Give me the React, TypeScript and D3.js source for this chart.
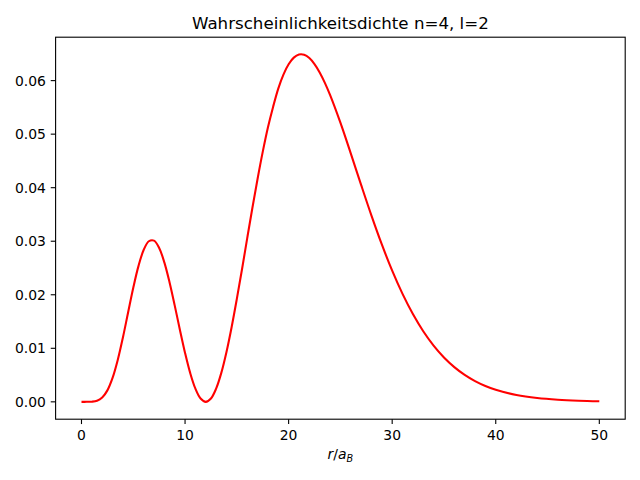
import React from "react";
import * as d3 from "d3";

const rValues = [
  0, 0.5, 1, 1.5, 2, 2.5, 3, 3.5, 4, 4.5, 5, 5.5, 6, 6.5, 7, 7.5, 8, 8.5, 9, 9.5,
  10, 10.5, 11, 11.5, 12, 12.5, 13, 13.5, 14, 14.5, 15, 15.5, 16, 16.5, 17, 17.5,
  18, 18.5, 19, 19.5, 20, 20.5, 21, 21.5, 22, 22.5, 23, 23.5, 24, 25, 26, 27, 28,
  29, 30, 31, 32, 33, 34, 35, 36, 37, 38, 39, 40, 42, 44, 46, 48, 50,
];
const densityValues = [
  0, 0.0000005, 0.0000249, 0.000201, 0.000798, 0.002141, 0.004468, 0.007826,
  0.01203, 0.016693, 0.02131, 0.025352, 0.028355, 0.029995, 0.030116, 0.028741,
  0.026049, 0.022346, 0.018017, 0.013478, 0.009139, 0.005365, 0.002455, 0.000624,
  0, 0.000624, 0.002461, 0.005408, 0.009313, 0.013988, 0.019226, 0.024765,
  0.030535, 0.0362, 0.041633, 0.046685, 0.051239, 0.05509, 0.05851, 0.061132,
  0.063056, 0.064292, 0.064866, 0.06482, 0.064211, 0.06309, 0.061528, 0.059586,
  0.057333, 0.052138, 0.046406, 0.040523, 0.034784, 0.029398, 0.0245, 0.020157,
  0.016389, 0.013182, 0.010496, 0.00828, 0.006475, 0.005023, 0.003867, 0.002956,
  0.002244, 0.00127, 0.000703, 0.000381, 0.000203, 0.000106,
];
const xTicks = [0, 10, 20, 30, 40, 50];
const yTicks = [0, 0.01, 0.02, 0.03, 0.04, 0.05, 0.06];
const titleText = "Wahrscheinlichkeitsdichte n=4, l=2";

const W = 640;
const H = 480;
const left = 55.6;
const right = 625.2;
const top = 37.2;
const bottom = 419.2;
const FONT = "DejaVu Sans, sans-serif";

export default function App() {
  const xMin = 0, xMax = 50;
  const yMax = d3.max(densityValues) as number;
  const xPad = (xMax - xMin) * 0.05;
  const yPad = yMax * 0.05;
  const x = d3.scaleLinear().domain([xMin - xPad, xMax + xPad]).range([left, right]);
  const y = d3.scaleLinear().domain([-yPad, yMax + yPad]).range([bottom, top]);
  const pts = rValues.map((r, i) => [r, densityValues[i]] as [number, number]);
  const line = d3
    .line<[number, number]>()
    .x((d) => x(d[0]))
    .y((d) => y(d[1]))
    .curve(d3.curveCatmullRom.alpha(0.5));
  const fmt = d3.format(".2f");
  const tickLen = 4.86;
  return (
    <svg
      width={W}
      height={H}
      style={{ position: "absolute", left: 0, top: 0, background: "#fff" }}
      fontFamily={FONT}
    >
      <rect x={0} y={0} width={W} height={H} fill="#fff" />
      <path d={line(pts) || ""} fill="none" stroke="#ff0000" strokeWidth={2.08} strokeLinejoin="round" />
      <rect x={left} y={top} width={right - left} height={bottom - top} fill="none" stroke="#000" strokeWidth={1.1} />
      {xTicks.map((t) => (
        <g key={"x" + t}>
          <line x1={x(t)} x2={x(t)} y1={bottom} y2={bottom + tickLen} stroke="#000" strokeWidth={1.1} />
          <text x={x(t)} y={440} textAnchor="middle" fontSize={13.9} fill="#000">
            {t}
          </text>
        </g>
      ))}
      {yTicks.map((t) => (
        <g key={"y" + t}>
          <line x1={left - tickLen} x2={left} y1={y(t)} y2={y(t)} stroke="#000" strokeWidth={1.1} />
          <text x={left - 2 * tickLen} y={y(t)} dy="0.36em" textAnchor="end" fontSize={13.9} fill="#000">
            {fmt(t)}
          </text>
        </g>
      ))}
      <text x={(left + right) / 2} y={28.7} textAnchor="middle" fontSize={16.67} fill="#000">
        {titleText}
      </text>
      <text x={(left + right) / 2} y={459} textAnchor="middle" fontSize={13.9} fill="#000">
        <tspan fontStyle="italic">r</tspan>
        <tspan>/</tspan>
        <tspan fontStyle="italic">a</tspan>
        <tspan fontStyle="italic" fontSize={9.7} dy={2.5}>B</tspan>
      </text>
    </svg>
  );
}
